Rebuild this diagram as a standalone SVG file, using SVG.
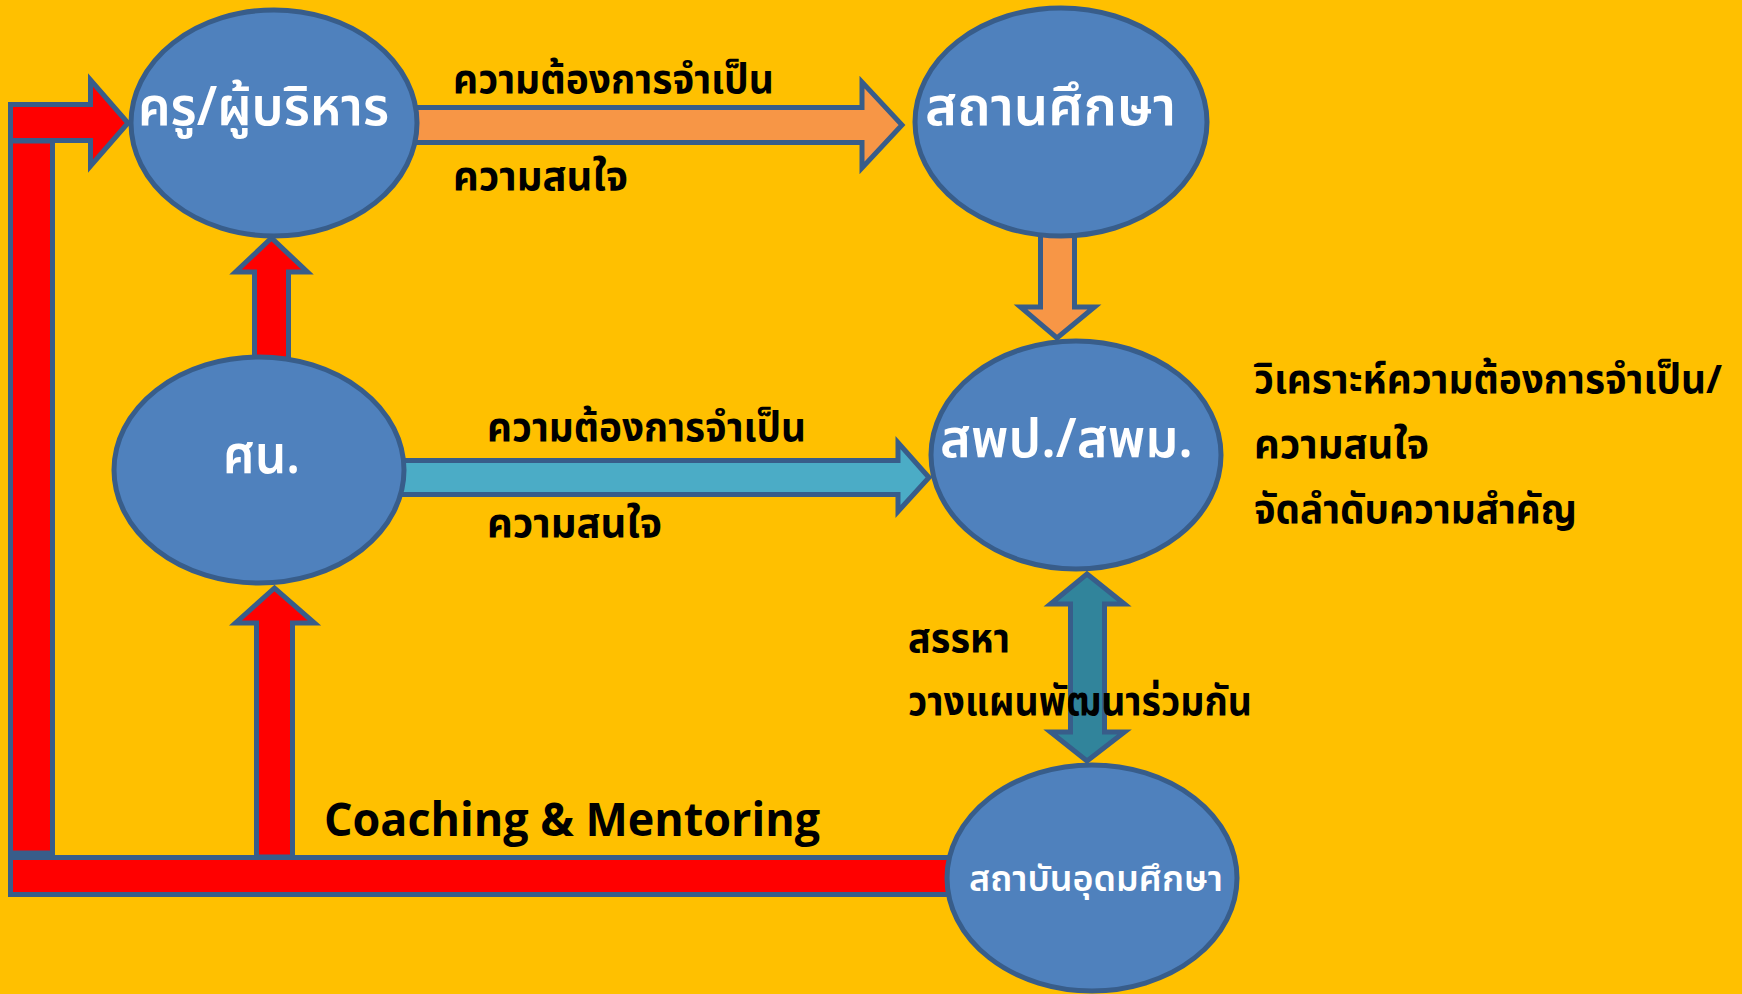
<svg xmlns="http://www.w3.org/2000/svg" width="1742" height="994" viewBox="0 0 1742 994">
<style>
.node{fill:#4F81BD;stroke:#385D8A;stroke-width:5}
.arr{stroke:#385D8A;stroke-width:5;stroke-linejoin:miter}
.red{fill:#FF0000}
.org{fill:#F79646}
.teal{fill:#4BACC6}
.dteal{fill:#31849B}
.wt{fill:#FFFFFF;font-family:"Noto Sans Thai","Noto Sans","DejaVu Sans",sans-serif;font-weight:600}
.bt{fill:#000000;font-family:"Noto Sans Thai","Noto Sans","DejaVu Sans",sans-serif;font-weight:bold;font-size:40px}
</style>
<rect x="0" y="0" width="1742" height="994" fill="#FFC000"/>
<g id="connectors">
  <rect class="arr red" x="10.5" y="141" width="42" height="712"/>
  <polygon class="arr red" points="10.5,104.5 90.5,104.5 90.5,80 128,123 90.5,166 90.5,140.5 10.5,140.5"/>
  <polygon class="arr red" points="256.5,857 256.5,623 235.5,623 274.5,588 314.5,623 292.5,623 292.5,857"/>
  <rect class="arr red" x="10.5" y="857.5" width="945" height="37"/>
  <polygon class="arr red" points="254.5,362 254.5,272 235.5,272 271.5,238 307.5,272 288.5,272 288.5,362"/>
  <polygon class="arr org" points="410,107.5 862,107.5 862,82 902,125 862,168 862,142.5 410,142.5"/>
  <polygon class="arr org" points="1040.5,230 1074.5,230 1074.5,307 1094.5,307 1057,338 1020.5,307 1040.5,307"/>
  <polygon class="arr teal" points="395,460.5 898,460.5 898,442.5 929,477.5 898,511.5 898,494.5 395,494.5"/>
  <polygon class="arr dteal" points="1087,574 1124.5,604 1104.5,604 1104.5,732 1124.5,732 1087,761 1050.5,732 1070.5,732 1070.5,604 1050.5,604"/>
</g>
<g id="lbl-top">
  <text class="bt" x="453" y="93" textLength="321" lengthAdjust="spacingAndGlyphs">ความต้องการจำเป็น</text>
  <text class="bt" x="453" y="190" textLength="175" lengthAdjust="spacingAndGlyphs">ความสนใจ</text>
</g>
<g id="lbl-mid">
  <text class="bt" x="487" y="441" textLength="319" lengthAdjust="spacingAndGlyphs">ความต้องการจำเป็น</text>
  <text class="bt" x="487" y="537" textLength="175" lengthAdjust="spacingAndGlyphs">ความสนใจ</text>
</g>
<g id="lbl-right">
  <text class="bt" x="1254" y="393" textLength="468" lengthAdjust="spacingAndGlyphs">วิเคราะห์ความต้องการจำเป็น/</text>
  <text class="bt" x="1254" y="458" textLength="175" lengthAdjust="spacingAndGlyphs">ความสนใจ</text>
  <text class="bt" x="1254" y="523" textLength="323" lengthAdjust="spacingAndGlyphs">จัดลำดับความสำคัญ</text>
</g>
<g id="lbl-plan">
  <text class="bt" x="908" y="652" textLength="102" lengthAdjust="spacingAndGlyphs">สรรหา</text>
  <text class="bt" x="908" y="715" textLength="344" lengthAdjust="spacingAndGlyphs">วางแผนพัฒนาร่วมกัน</text>
</g>
<g id="lbl-coaching">
  <text x="324" y="836" font-family="'Open Sans','Liberation Sans',sans-serif" font-weight="bold" font-size="46" textLength="496" lengthAdjust="spacingAndGlyphs">Coaching &amp; Mentoring</text>
</g>
<g id="node-teacher">
  <ellipse class="node" cx="274" cy="123" rx="143" ry="113"/>
  <text class="wt" x="138" y="125" font-size="54" textLength="251" lengthAdjust="spacingAndGlyphs">ครู/ผู้บริหาร</text>
</g>
<g id="node-school">
  <ellipse class="node" cx="1061" cy="122" rx="146" ry="114"/>
  <text class="wt" x="925" y="125" font-size="54" textLength="251" lengthAdjust="spacingAndGlyphs">สถานศึกษา</text>
</g>
<g id="node-supervisor">
  <ellipse class="node" cx="259" cy="470" rx="145" ry="113"/>
  <text class="wt" x="223" y="473" font-size="54" textLength="77" lengthAdjust="spacingAndGlyphs">ศน.</text>
</g>
<g id="node-office">
  <ellipse class="node" cx="1076" cy="455" rx="145" ry="114"/>
  <text class="wt" x="940" y="457" font-size="54" textLength="253" lengthAdjust="spacingAndGlyphs">สพป./สพม.</text>
</g>
<g id="node-university">
  <ellipse class="node" cx="1092" cy="878" rx="145" ry="113"/>
  <text class="wt" x="969" y="891" font-size="36" font-weight="normal" textLength="254" lengthAdjust="spacingAndGlyphs">สถาบันอุดมศึกษา</text>
</g>
</svg>
